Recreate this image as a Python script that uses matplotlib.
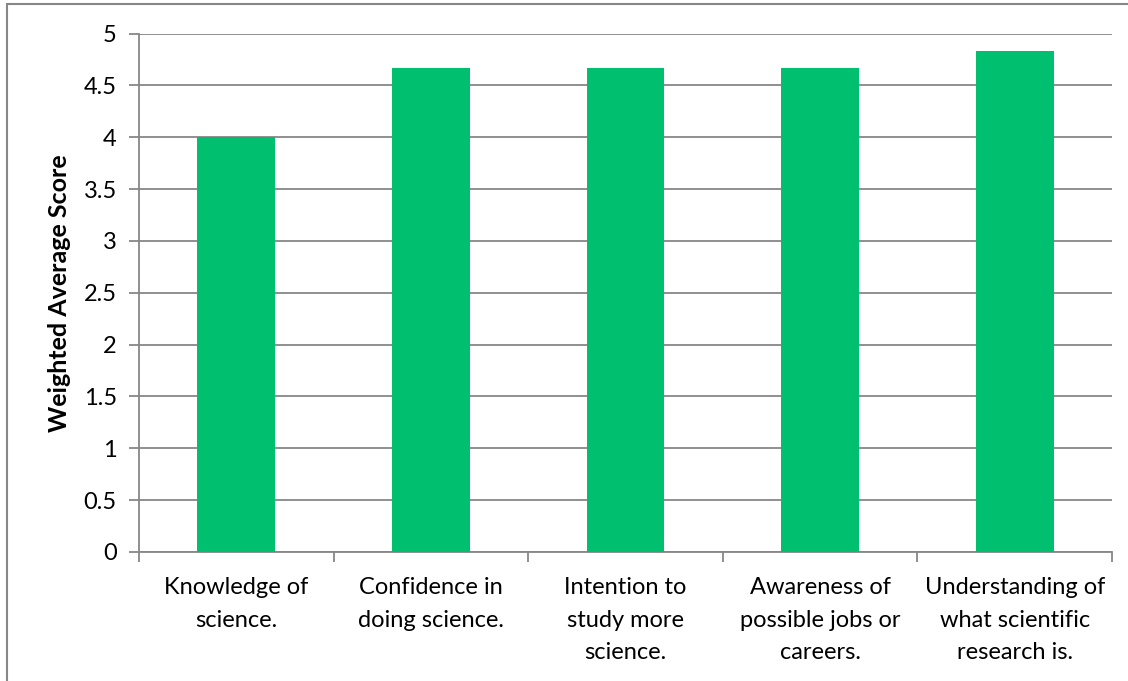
import matplotlib.pyplot as plt
from matplotlib.patches import Rectangle

categories = [
    "Knowledge of\nscience.",
    "Confidence in\ndoing science.",
    "Intention to\nstudy more\nscience.",
    "Awareness of\npossible jobs or\ncareers.",
    "Understanding of\nwhat scientific\nresearch is.",
]
scores = [4.0, 4.67, 4.67, 4.67, 4.83]
y_ticks = [0, 0.5, 1, 1.5, 2, 2.5, 3, 3.5, 4, 4.5, 5]
y_labels = ["0", "0.5", "1", "1.5", "2", "2.5", "3", "3.5", "4", "4.5", "5"]

plt.rcParams["font.family"] = ["Lato", "DejaVu Sans"]
GRID = "#878787"
GREEN = "#00BF6F"

W, H = 1128, 681
fig = plt.figure(figsize=(W / 100, H / 100), dpi=100)
ax = fig.add_axes([139 / W, 1 - 552 / H, (1112 - 139) / W, (552 - 33.5) / H])

# outer chart border (extends past the right/bottom edges)
fig.patches.append(Rectangle((7 / W, -0.05), 1.2, 1 - 4 / H + 0.05,
                             transform=fig.transFigure, fill=False,
                             edgecolor=GRID, linewidth=1.5))

x = list(range(len(categories)))
ax.bar(x, scores, width=0.4, color=GREEN, zorder=3)

ax.set_xlim(-0.5, len(categories) - 0.5)
ax.set_ylim(0, 5)
ax.set_yticks(y_ticks)
ax.set_yticklabels(y_labels, fontsize=17)
ax.yaxis.grid(True, color=GRID, linewidth=1.3, zorder=0)

# category labels centred, ticks at category boundaries
ax.set_xticks(x)
ax.set_xticklabels(categories, fontsize=17, linespacing=1.68)
ax.tick_params(axis="x", which="major", length=0, pad=18)
ax.set_xticks([i - 0.5 for i in range(len(categories) + 1)], minor=True)
ax.tick_params(axis="x", which="minor", length=7, color=GRID, width=1.3)
ax.tick_params(axis="y", length=7, color=GRID, width=1.3, pad=9)

for side in ["top", "right"]:
    ax.spines[side].set_visible(False)
for side in ["left", "bottom"]:
    ax.spines[side].set_color(GRID)
    ax.spines[side].set_linewidth(1.3)

ax.set_ylabel("Weighted Average Score", fontsize=18, fontweight="bold", labelpad=9)

fig.savefig("out.png", dpi=100)
